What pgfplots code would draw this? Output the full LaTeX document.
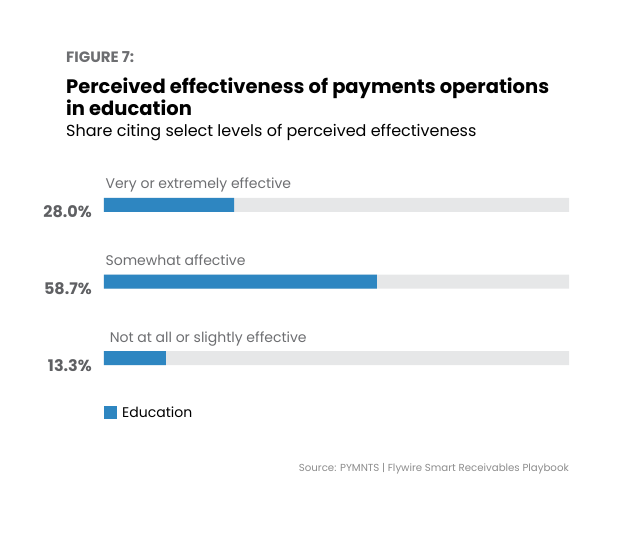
\documentclass[border=0pt]{standalone}
\usepackage{fontspec}
\setmainfont{Poppins}
\usepackage{pgfplots}
\pgfplotsset{compat=1.18}
\definecolor{edublue}{RGB}{46,134,193}
\definecolor{bargray}{RGB}{230,231,232}
\definecolor{labgray}{RGB}{109,110,113}
\definecolor{valgray}{RGB}{95,96,99}
\definecolor{srcgray}{RGB}{140,140,140}
\begin{document}
\begin{tikzpicture}
\path (0pt,0pt) rectangle (622pt,536pt);
% titles (pixel y -> 536 - y)
\node[anchor=base west, inner sep=0, text=labgray, font=\fontsize{15}{18}\selectfont\bfseries] at (66pt,473pt) {FIGURE 7:};
\node[anchor=base west, inner sep=0, font=\fontsize{19.5}{21}\selectfont\bfseries] at (66pt,442pt) {Perceived effectiveness of payments operations};
\node[anchor=base west, inner sep=0, font=\fontsize{19.5}{21}\selectfont\bfseries] at (66pt,420pt) {in education};
\node[anchor=base west, inner sep=0, font=\fontsize{16}{18}\selectfont] at (66pt,399pt) {Share citing select levels of perceived effectiveness};
\begin{axis}[
  at={(104pt,139.5pt)}, anchor=south west,
  scale only axis, width=465pt, height=230pt,
  xmin=0, xmax=100, ymin=0.5, ymax=3.5, y dir=reverse,
  axis line style={draw=none}, xtick=\empty, ytick=\empty,
  clip=false,
  legend style={at={(0,0)}, anchor=north west, draw=none, fill=none,
    xshift=0pt, yshift=-8pt, font=\fontsize{14}{16}\selectfont,
    inner sep=0pt, legend cell align=left,
    /tikz/every even column/.append style={column sep=0pt}},
  legend image code/.code={\fill[#1] (0pt,-6.5pt) rectangle (13pt,6.5pt);},
]
\addplot[xbar, bar width=14pt, bar shift=0pt, fill=bargray, draw=none, forget plot]
  coordinates {(100,1) (100,2) (100,3)};
\addplot[xbar, bar width=14pt, bar shift=0pt, fill=edublue, draw=none]
  coordinates {(28.0,1) (58.7,2) (13.3,3)};
\addlegendentry{\hspace{3pt}Education}
\node[anchor=base west, text=labgray, inner sep=0, font=\fontsize{14}{16}\selectfont] at (axis cs:0.3,1) [yshift=16pt] {Very or extremely effective};
\node[anchor=base west, text=labgray, inner sep=0, font=\fontsize{14}{16}\selectfont] at (axis cs:0.3,2) [yshift=16pt] {Somewhat affective};
\node[anchor=base west, text=labgray, inner sep=0, font=\fontsize{14}{16}\selectfont] at (axis cs:1.2,3) [yshift=16pt] {Not at all or slightly effective};
\node[anchor=east, text=valgray, inner sep=0, font=\fontsize{16}{18}\selectfont\bfseries] at (axis cs:0,1) [xshift=-12pt, yshift=-7pt] {28.0\%};
\node[anchor=east, text=valgray, inner sep=0, font=\fontsize{16}{18}\selectfont\bfseries] at (axis cs:0,2) [xshift=-12pt, yshift=-7pt] {58.7\%};
\node[anchor=east, text=valgray, inner sep=0, font=\fontsize{16}{18}\selectfont\bfseries] at (axis cs:0,3) [xshift=-12pt, yshift=-7pt] {13.3\%};
\end{axis}
\node[anchor=base east, inner sep=0, text=srcgray, font=\fontsize{10.2}{12}\selectfont] at (569pt,64pt) {Source: PYMNTS | Flywire Smart Receivables Playbook};
\end{tikzpicture}
\end{document}
